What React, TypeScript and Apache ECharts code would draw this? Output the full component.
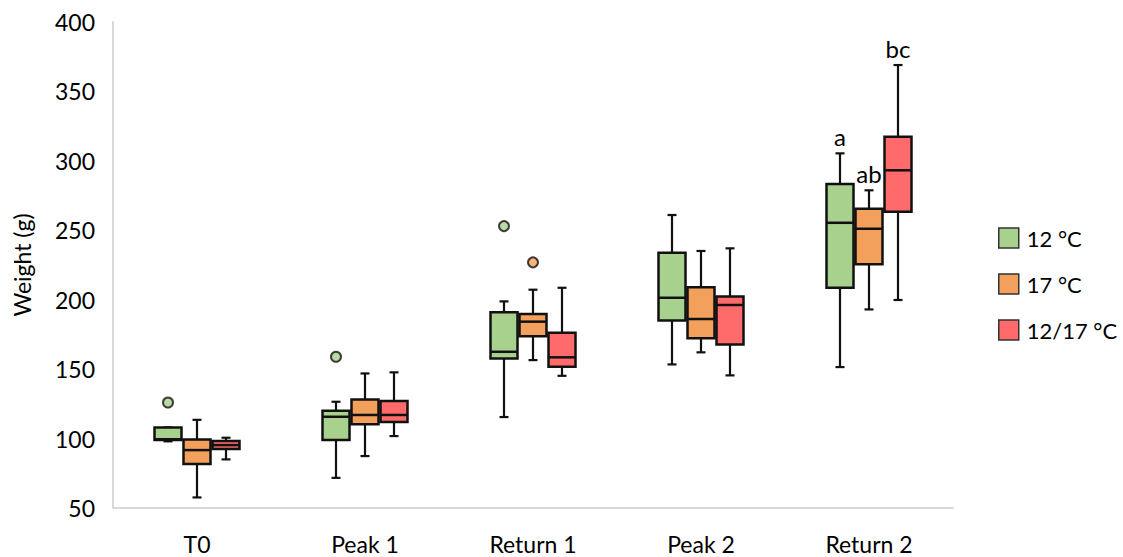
import React, { useEffect, useRef } from "react";
import * as echarts from "echarts";

const categories = ["T0", "Peak 1", "Return 1", "Peak 2", "Return 2"];
const seriesNames = ["12 °C", "17 °C", "12/17 °C"];

// [min, Q1, median, Q3, max] per category
const stats12 = [
  [98, 99, 99.5, 108, 108],
  [71.7, 99, 115.7, 120, 126.5],
  [115.5, 157.7, 162.5, 190.9, 198.8],
  [153.4, 185.1, 201.4, 233.8, 261],
  [151.5, 208.6, 255.4, 283.3, 305.4],
];
const stats17 = [
  [57.6, 81.6, 91.7, 99.4, 113.5],
  [87.4, 110.4, 117, 128.2, 146.9],
  [156.5, 173.6, 184.2, 189.7, 207.2],
  [162.1, 172.2, 186.1, 208.9, 235.1],
  [193, 225.5, 251.1, 265.5, 278.8],
];
const stats1217 = [
  [85, 92.4, 95.3, 98.2, 100.6],
  [101.8, 112, 117, 127, 147.7],
  [145.2, 151.7, 158.5, 176.2, 208.6],
  [145.5, 167.8, 196.2, 202.4, 237],
  [199.8, 263.4, 293.2, 317.4, 369],
];

// outliers: [categoryIndex, value]
const outliers12 = [
  [0, 126],
  [1, 158.9],
  [2, 253],
];
const outliers17 = [[2, 226.9]];
const outliers1217: number[][] = [];

// significance letters per category
const letters12 = ["", "", "", "", "a"];
const letters17 = ["", "", "", "", "ab"];
const letters1217 = ["", "", "", "", "bc"];

const colors = ["#A9D18E", "#F2A05C", "#FF6B6B"];
const offsets = [-29, 0, 29];
const FONT = "Lato, 'Open Sans', sans-serif";

export default function App() {
  const ref = useRef<HTMLDivElement>(null);

  useEffect(() => {
    if (!ref.current) return;
    const chart = echarts.init(ref.current, undefined, { renderer: "svg" });
    const allStats = [stats12, stats17, stats1217];
    const allOutliers = [outliers12, outliers17, outliers1217];
    const allLetters = [letters12, letters17, letters1217];
    const boxW = 27;
    const capW = 9;
    const stroke = "#111";

    const boxSeries = seriesNames.map((name, si) => ({
      type: "custom",
      name,
      itemStyle: { color: colors[si], borderColor: stroke, borderWidth: 1.5 },
      data: allStats[si].map((s, ci) => [ci, ...s]),
      encode: { x: 0, y: [1, 2, 3, 4, 5] },
      renderItem: (params: any, api: any) => {
        const ci = api.value(0);
        const pMin = api.coord([ci, api.value(1)]);
        const pQ1 = api.coord([ci, api.value(2)]);
        const pMed = api.coord([ci, api.value(3)]);
        const pQ3 = api.coord([ci, api.value(4)]);
        const pMax = api.coord([ci, api.value(5)]);
        const cx = pMin[0] + offsets[si];
        const lineStyle = { stroke, lineWidth: 2.2 };
        const children: any[] = [
          { type: "line", shape: { x1: cx, y1: pMax[1], x2: cx, y2: pQ3[1] }, style: lineStyle },
          { type: "line", shape: { x1: cx, y1: pQ1[1], x2: cx, y2: pMin[1] }, style: lineStyle },
          { type: "line", shape: { x1: cx - capW / 2, y1: pMax[1], x2: cx + capW / 2, y2: pMax[1] }, style: lineStyle },
          { type: "line", shape: { x1: cx - capW / 2, y1: pMin[1], x2: cx + capW / 2, y2: pMin[1] }, style: lineStyle },
          {
            type: "rect",
            shape: { x: cx - boxW / 2, y: pQ3[1], width: boxW, height: pQ1[1] - pQ3[1] },
            style: { fill: colors[si], stroke, lineWidth: 2.5 },
          },
          { type: "line", shape: { x1: cx - boxW / 2, y1: pMed[1], x2: cx + boxW / 2, y2: pMed[1] }, style: { stroke, lineWidth: 2.5 } },
        ];
        const letter = allLetters[si][ci];
        if (letter) {
          children.push({
            type: "text",
            x: cx,
            y: pMax[1] - 5,
            style: { text: letter, fontSize: 24, fontFamily: FONT, fill: "#000", align: "center", verticalAlign: "bottom" },
          });
        }
        return { type: "group", children };
      },
      z: 2,
    }));

    const outlierSeries = seriesNames.map((name, si) => ({
      type: "scatter",
      name,
      symbol: "circle",
      symbolSize: 10,
      symbolOffset: [offsets[si], 0],
      itemStyle: { color: colors[si], borderColor: stroke, borderWidth: 2 },
      data: allOutliers[si],
      z: 3,
    }));

    chart.setOption({
      animation: false,
      backgroundColor: "#fff",
      textStyle: { fontFamily: FONT },
      grid: { left: 113, top: 22, width: 840, height: 486, containLabel: false },
      xAxis: {
        type: "category",
        data: categories,
        axisLine: { show: true, lineStyle: { color: "#d9d9d9", width: 2 } },
        axisTick: { show: false },
        axisLabel: { fontSize: 23, color: "#000", margin: 24, fontFamily: FONT },
        splitLine: { show: false },
      },
      yAxis: {
        type: "value",
        min: 50,
        max: 400,
        interval: 50,
        name: "Weight (g)",
        nameLocation: "middle",
        nameGap: 80,
        nameTextStyle: { fontSize: 23, color: "#000", fontFamily: FONT },
        axisLine: { show: true, lineStyle: { color: "#d9d9d9", width: 2 } },
        axisTick: { show: false },
        axisLabel: { fontSize: 23, color: "#000", margin: 18, fontFamily: FONT },
        splitLine: { show: false },
      },
      legend: {
        orient: "vertical",
        left: 993,
        top: 222,
        itemWidth: 20,
        itemHeight: 20,
        itemGap: 24,
        icon: "rect",
        textStyle: { fontSize: 22, color: "#000", fontFamily: FONT, padding: [0, 0, 0, 3] },
        data: seriesNames.map((name, si) => ({
          name,
          icon: "rect",
          itemStyle: { color: colors[si], borderColor: "#333", borderWidth: 1.5 },
        })),
      },
      series: [...boxSeries, ...outlierSeries],
    });
    return () => chart.dispose();
  }, []);

  return <div ref={ref} style={{ position: "fixed", left: 0, top: 0, width: 1123, height: 557 }} />;
}
